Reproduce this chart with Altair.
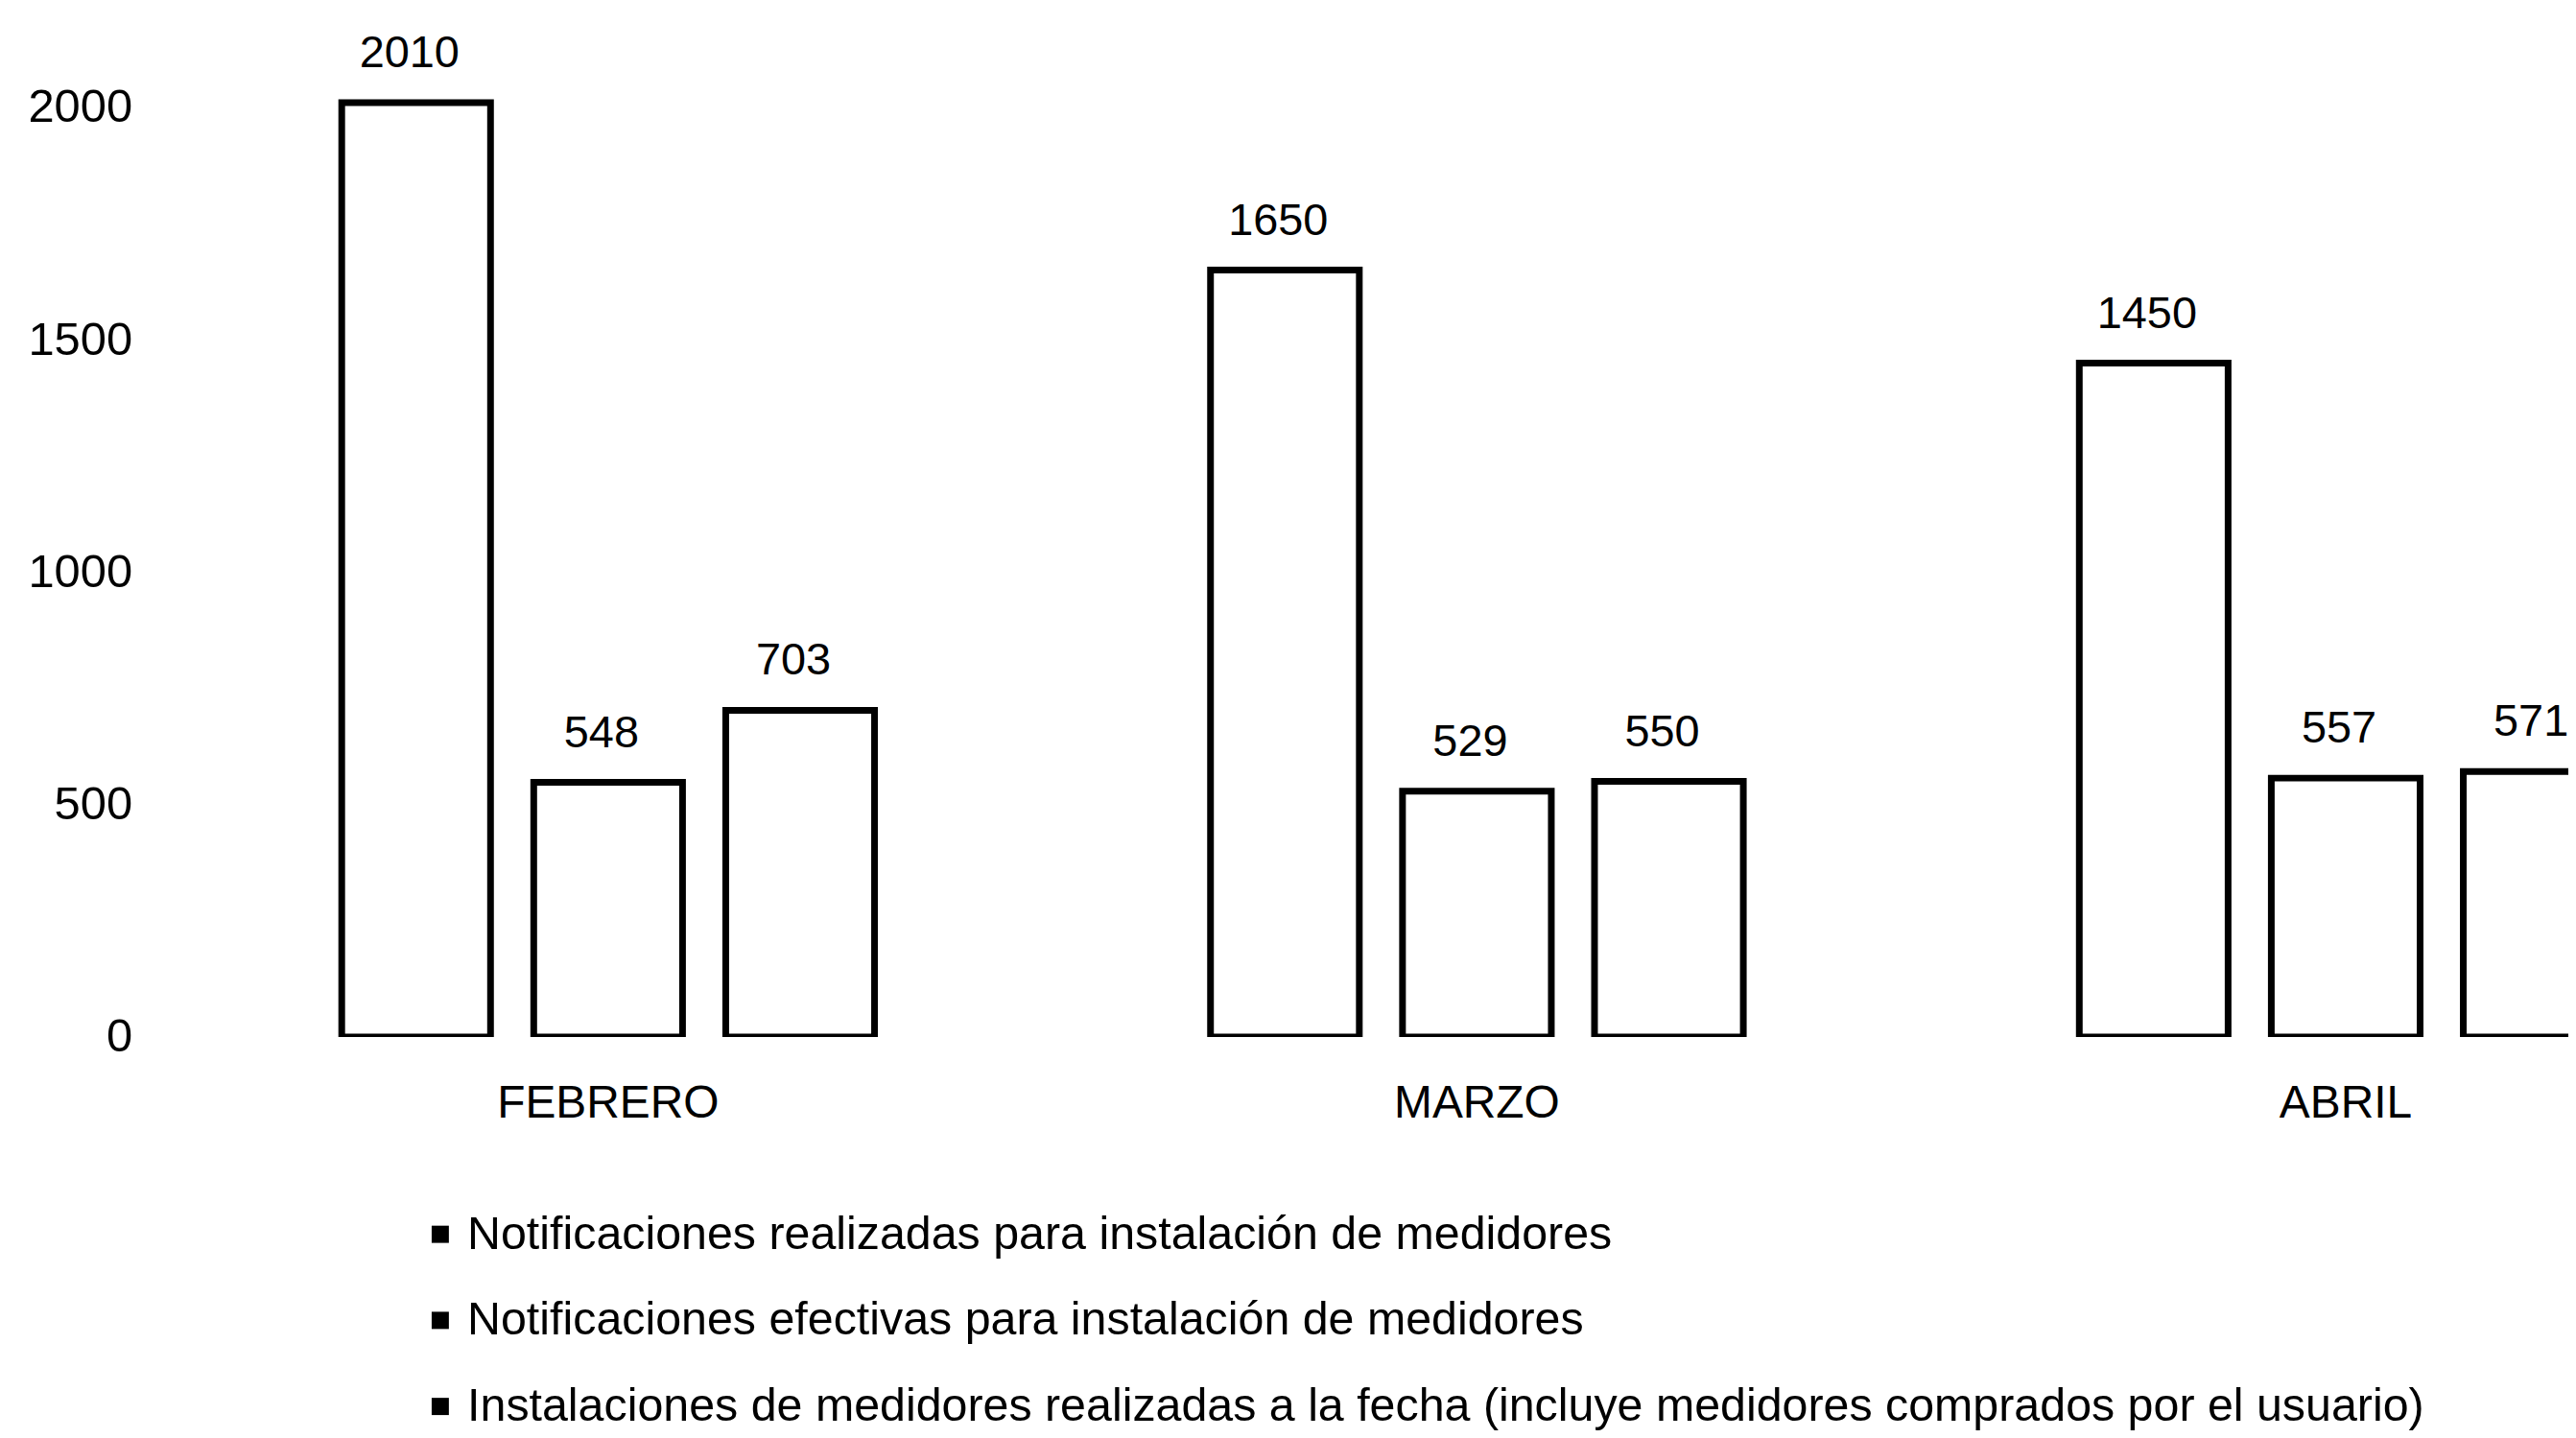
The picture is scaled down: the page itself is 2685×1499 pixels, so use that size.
import altair as alt
import pandas as pd

months = ["FEBRERO", "MARZO", "ABRIL"]
series = [
    "Notificaciones realizadas para instalación de medidores",
    "Notificaciones efectivas para instalación de medidores",
    "Instalaciones de medidores realizadas a la fecha (incluye medidores comprados por el usuario)",
]
realizadas = [2010, 1650, 1450]
efectivas = [548, 529, 557]
instalaciones = [703, 550, 571]
y_ticks = [0, 500, 1000, 1500, 2000]

rows = []
for s, vals in zip(series, [realizadas, efectivas, instalaciones]):
    for m, v in zip(months, vals):
        rows.append({"mes": m, "serie": s, "valor": v})
df = pd.DataFrame(rows)

FONT = "Liberation Sans"

x_enc = alt.X(
    "mes:N",
    sort=months,
    scale=alt.Scale(range=[3, 2785], paddingInner=0.337, paddingOuter=0.2),
    axis=alt.Axis(title=None, labelAngle=0, domain=False, ticks=False, grid=False,
                  labelFontSize=48, labelPadding=46, labelFont=FONT, labelColor="black",
                  labelLimit=1000),
)
xoff = alt.XOffset("serie:N", sort=series,
                   scale=alt.Scale(paddingInner=0.225, paddingOuter=0.1125))
y_enc = alt.Y(
    "valor:Q",
    scale=alt.Scale(domain=[0, 2177], nice=False),
    axis=alt.Axis(values=y_ticks, format="d", title=None, domain=False, ticks=False,
                  grid=False, labelFontSize=49, labelPadding=12, labelFont=FONT,
                  labelColor="black"),
)

base = alt.Chart(df)

legend_layer = base.mark_bar(clip=True).encode(
    x=x_enc, xOffset=xoff, y=y_enc,
    color=alt.Color(
        "serie:N", sort=series,
        scale=alt.Scale(domain=series, range=["black", "black", "black"]),
        legend=alt.Legend(
            title=None, orient="none", legendX=286, legendY=1240,
            direction="vertical", symbolType="square", symbolSize=324,
            symbolStrokeWidth=0, rowPadding=41, labelOffset=4, padding=0,
            labelFontSize=48.5, labelFont=FONT, labelColor="black", labelLimit=3000,
        ),
    ),
)

bars = base.mark_bar(fill="white", stroke="black", strokeWidth=7, clip=True).encode(
    x=x_enc, xOffset=xoff, y=y_enc,
)

labels = base.mark_text(baseline="middle", dy=-51, dx=-7, fontSize=47, font=FONT,
                        color="black").encode(
    x=x_enc, xOffset=xoff, y=y_enc, text="valor:Q",
)

chart = alt.layer(legend_layer, bars, labels).properties(
    width=2535, height=1058,
    autosize=alt.AutoSizeParams(type="none"),
    padding={"left": 142, "top": 16, "right": 0, "bottom": 416},
    background="white",
).configure_view(stroke=None)

chart.save("out.html", embed_options={"renderer": "svg", "actions": False})
